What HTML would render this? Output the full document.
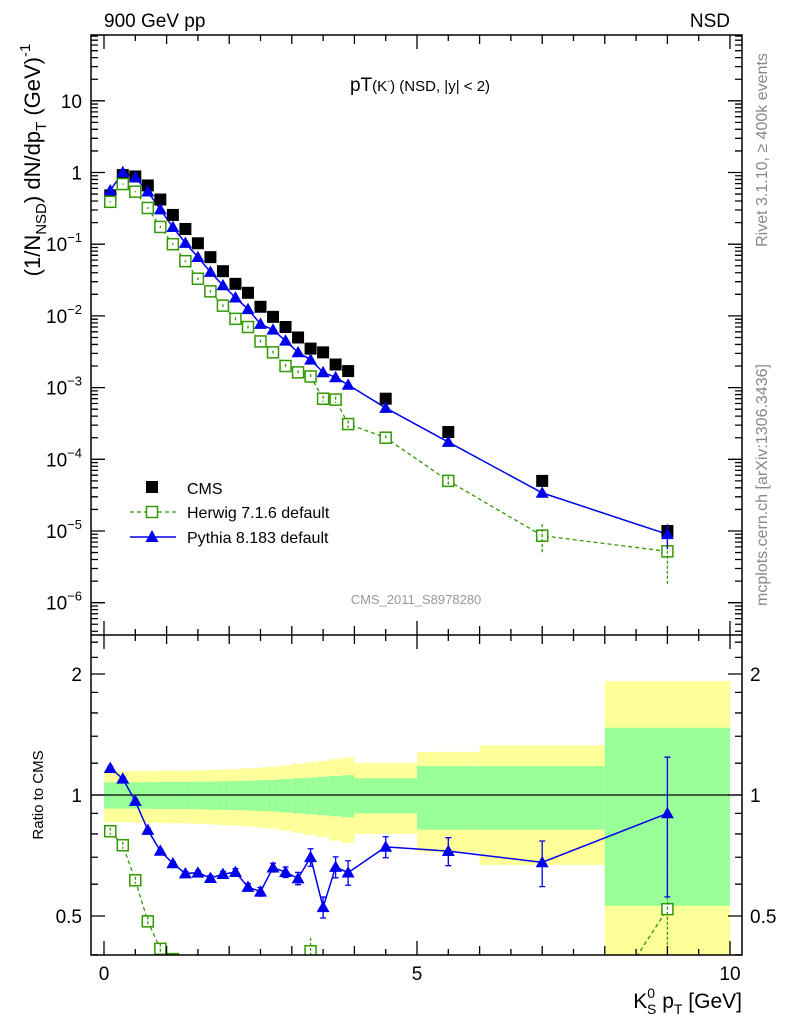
<!DOCTYPE html>
<html><head><meta charset="utf-8"><style>
html,body{margin:0;background:#fff;width:786px;height:1024px;overflow:hidden;position:relative;}
svg{display:block;font-family:"Liberation Sans",sans-serif;}
</style></head><body>
<svg id="c" width="786" height="1024" viewBox="0 0 786 1024" style="position:absolute;left:0;top:0"></svg>
<script>
const xs=[0.1,0.3,0.5,0.7,0.9,1.1,1.3,1.5,1.7,1.9,2.1,2.3,2.5,2.7,2.9,3.1,3.3,3.5,3.7,3.9,4.5,5.5,7,9];
const cms=[0.48,0.92,0.88,0.66,0.42,0.256,0.163,0.103,0.066,0.042,0.028,0.021,0.0134,0.0097,0.0070,0.0050,0.0035,0.0031,0.0021,0.0017,7.0e-4,2.4e-4,5.0e-5,1.0e-5];
const pythia=[0.56,1.01,0.85,0.54,0.305,0.173,0.104,0.066,0.041,0.0267,0.018,0.0124,0.0077,0.0064,0.0045,0.0031,0.00245,0.00163,0.00139,0.00109,5.2e-4,1.74e-4,3.4e-5,9.0e-6];
const pythiaErr=[0.01,0.01,0.01,0.01,0.01,0.01,0.01,0.01,0.015,0.015,0.02,0.02,0.025,0.025,0.03,0.035,0.05,0.06,0.06,0.07,0.06,0.08,0.13,0.38];
const herwig=[0.39,0.69,0.54,0.32,0.174,0.1,0.058,0.033,0.022,0.0139,0.0091,0.0070,0.0044,0.0031,0.0020,0.00163,0.00143,7.0e-4,6.8e-4,3.1e-4,2.0e-4,5.0e-5,8.6e-6,5.2e-6];
const herwigErr=[0.02,0.02,0.02,0.03,0.03,0.03,0.03,0.04,0.04,0.04,0.05,0.05,0.06,0.06,0.07,0.07,0.08,0.1,0.1,0.12,0.08,0.15,0.45,0.65];
const binEdges=[0,0.2,0.4,0.6,0.8,1.0,1.2,1.4,1.6,1.8,2.0,2.2,2.4,2.6,2.8,3.0,3.2,3.4,3.6,3.8,4.0,5,6,8,10];
const greenErr=[0.075,0.075,0.075,0.076,0.077,0.078,0.078,0.079,0.08,0.082,0.083,0.085,0.088,0.09,0.095,0.1,0.105,0.11,0.115,0.12,0.10,0.18,0.18,0.47];
const yellowErr=[0.145,0.145,0.146,0.147,0.148,0.15,0.15,0.152,0.155,0.158,0.16,0.165,0.17,0.175,0.185,0.195,0.205,0.215,0.23,0.24,0.20,0.28,0.33,0.92];
const decadeExps=[-6,-5,-4,-3,-2,-1,0,1];

const NS="http://www.w3.org/2000/svg";
const svg=document.getElementById('c');
function el(t,a,p){const e=document.createElementNS(NS,t);for(const k in a)e.setAttribute(k,a[k]);(p||svg).appendChild(e);return e;}
const L=91,R=742,T=35,M=635,B=955;
const X=v=>104+v*62.6;
const Y=v=>172.5-71.7*Math.log10(v);
const YR=v=>795-121*Math.log2(v);
const clipTop=el('clipPath',{id:'ct'});el('rect',{x:L,y:T,width:R-L,height:M-T},clipTop);
const clipBot=el('clipPath',{id:'cb'});el('rect',{x:L,y:M,width:R-L,height:B-M},clipBot);

const gB=el('g',{'clip-path':'url(#cb)'});

for(let i=0;i<greenErr.length;i++){
  const x0=X(binEdges[i]),x1=X(binEdges[i+1]);
  const ylo=Math.max(1-yellowErr[i],0.05);
  const r=el('rect',{x:x0,y:YR(1+yellowErr[i]),width:x1-x0,height:YR(ylo)-YR(1+yellowErr[i]),fill:'#ffff99'},gB);
  
  const g=el('rect',{x:x0,y:YR(1+greenErr[i]),width:x1-x0,height:YR(1-greenErr[i])-YR(1+greenErr[i]),fill:'#99ff99'},gB);
  
}
const one=el('line',{x1:L,x2:R,y1:YR(1),y2:YR(1),stroke:'#000','stroke-width':1.2});


function tri(g,x,y,s){return el('polygon',{points:`${x},${y-s} ${x-s},${y+s*0.75} ${x+s},${y+s*0.75}`,fill:'#0000ee'},g);}
function sq(g,x,y,s,fill){return el('rect',{x:x-s,y:y-s,width:2*s,height:2*s,fill:fill?'#000':'#fff',stroke:fill?'none':'#339900','stroke-width':1.5},g);}

const gT=el('g',{'clip-path':'url(#ct)'});
let d='';xs.forEach((x,i)=>{d+=(i?'L':'M')+X(x)+','+Y(herwig[i]);});
el('path',{d,fill:'none',stroke:'#339900','stroke-width':1.3,'stroke-dasharray':'4,3'},gT);
d='';xs.forEach((x,i)=>{d+=(i?'L':'M')+X(x)+','+Y(pythia[i]);});
el('path',{d,fill:'none',stroke:'#0000ee','stroke-width':1.5},gT);
xs.forEach((x,i)=>{
  const m=sq(gT,X(x),Y(cms[i]),6,true);
  
  const h=sq(gT,X(x),Y(herwig[i]),5.5,false);
  
  const e=el('line',{x1:X(x),x2:X(x),y1:Y(herwig[i]*(1+herwigErr[i])),y2:Y(herwig[i]*Math.max(1-herwigErr[i],0.2)),stroke:'#339900','stroke-width':1.3,'stroke-dasharray':'3,2'},gT);
  
  const pe=el('line',{x1:X(x),x2:X(x),y1:Y(pythia[i]*(1+pythiaErr[i])),y2:Y(pythia[i]*(1-pythiaErr[i])),stroke:'#0000ee','stroke-width':1.3},gT);
  
  const p=tri(gT,X(x),Y(pythia[i]),6.5);
  
});

const gR=el('g',{'clip-path':'url(#cb)'});
d='';xs.forEach((x,i)=>{d+=(i?'L':'M')+X(x)+','+YR(herwig[i]/cms[i]);});
el('path',{d,fill:'none',stroke:'#339900','stroke-width':1.3,'stroke-dasharray':'4,3'},gR);
d='';xs.forEach((x,i)=>{d+=(i?'L':'M')+X(x)+','+YR(pythia[i]/cms[i]);});
el('path',{d,fill:'none',stroke:'#0000ee','stroke-width':1.5},gR);
xs.forEach((x,i)=>{
  const hr=herwig[i]/cms[i],pr=pythia[i]/cms[i];
  const h=sq(gR,X(x),YR(hr),5.5,false);
  
  const he=el('line',{x1:X(x),x2:X(x),y1:YR(hr*(1+herwigErr[i])),y2:YR(hr*Math.max(1-herwigErr[i],0.2)),stroke:'#339900','stroke-width':1.3,'stroke-dasharray':'3,2'},gR);
  
  const y1=YR(pr*(1+pythiaErr[i])),y2=YR(pr*(1-pythiaErr[i]));
  const pe=el('path',{d:`M${X(x)},${y1}V${y2}M${X(x)-3},${y1}h6M${X(x)-3},${y2}h6`,stroke:'#0000ee','stroke-width':1.3,fill:'none'},gR);
  
  const p=tri(gR,X(x),YR(pr),6.5);
  
});

const ax=el('g',{stroke:'#000','stroke-width':1.5,fill:'none'});

el('rect',{x:L,y:T,width:R-L,height:B-T},ax);
el('line',{x1:L,x2:R,y1:M,y2:M},ax);
let td='';
for(let k=0;k<=20;k++){const v=k*0.5,x=X(v),len=(k%10==0)?14:(k%2==0?9:6);
  td+=`M${x},${M}v${-len}M${x},${T}v${len}M${x},${M}v${len}M${x},${B}v${-len}`;}
for(let e=-7;e<=1;e++){for(let m=1;m<10;m++){const v=m*Math.pow(10,e),y=Y(v);if(y<T||y>M)continue;const len=m==1?14:7;td+=`M${L},${y}h${len}M${R},${y}h${-len}`;}}
for(let k=4;k<=24;k++){const v=k/10;if(v>1&&k%2)continue;const y=YR(v);if(y<M||y>B)continue;const major=(v==0.5||v==1||v==2);const len=major?14:7;td+=`M${L},${y}h${len}M${R},${y}h${-len}`;}
el('path',{d:td,'stroke-width':1.3},ax);

function txt(s,x,y,o){const t=el('text',Object.assign({x,y},o||{}));t.textContent=s;return t;}
decadeExps.forEach(ex=>{
  const y=Y(Math.pow(10,ex))+7;
  const t=el('text',{x:82,y,'font-size':19,'text-anchor':'end'});
  
  if(ex==0){t.textContent='1';}
  else if(ex==1){t.textContent='10';}
  else{const a=el('tspan',{},t);a.textContent='10';const b=el('tspan',{'font-size':13,dy:-9},b0=t);b.textContent='\u2212'+(-ex);}
});
[[2,'2'],[1,'1'],[0.5,'0.5']].forEach(([v,s])=>{
  let t=txt(s,82,YR(v)+7,{'font-size':19,'text-anchor':'end'});
  t=txt(s,750,YR(v)+7,{'font-size':19});});
[[0,'0'],[5,'5'],[10,'10']].forEach(([v,s])=>{const t=txt(s,X(v),980,{'font-size':19,'text-anchor':'middle'});});
</script>
<svg width="786" height="1024" style="position:absolute;left:0;top:0" font-family="Liberation Sans, sans-serif">
<text x="104" y="27" font-size="19">900 GeV pp</text>
<text x="730" y="27" font-size="19" text-anchor="end">NSD</text>
<text x="420" y="91" font-size="19" text-anchor="middle">pT<tspan font-size="15">(K</tspan><tspan font-size="9" dy="-7">-</tspan><tspan font-size="15" dy="7">) (NSD, |y| &lt; 2)</tspan></text>
<text transform="translate(40,160) rotate(-90)" font-size="22" text-anchor="middle">(1/N<tspan font-size="15" dy="6">NSD</tspan><tspan dy="-6">) dN/dp</tspan><tspan font-size="15" dy="6">T</tspan><tspan dy="-6">  (GeV)</tspan><tspan font-size="15" dy="-10">-1</tspan></text>
<text transform="translate(43,795) rotate(-90)" font-size="15" text-anchor="middle">Ratio to CMS</text>
<text x="742" y="1008" font-size="21" text-anchor="end">K<tspan font-size="14" dy="-10">0</tspan><tspan font-size="14" dy="16" dx="-8">S</tspan><tspan dy="-6"> p</tspan><tspan font-size="14" dy="6">T</tspan><tspan dy="-6"> [GeV]</tspan></text>
<text transform="translate(767,150) rotate(-90)" font-size="16" fill="#888" text-anchor="middle">Rivet 3.1.10, ≥ 400k events</text>
<text transform="translate(767,485) rotate(-90)" font-size="16" fill="#888" text-anchor="middle">mcplots.cern.ch [arXiv:1306.3436]</text>
<text x="416" y="604" font-size="13" fill="#999" text-anchor="middle">CMS_2011_S8978280</text>
<g>
<rect x="146" y="481" width="12" height="12" fill="#000"/>
<text x="187" y="494" font-size="16">CMS</text>
<line x1="130" y1="512" x2="176" y2="512" stroke="#339900" stroke-width="1.3" stroke-dasharray="4,3"/>
<rect x="146.5" y="506.5" width="11" height="11" fill="#fff" stroke="#339900" stroke-width="1.5"/>
<text x="187" y="518" font-size="16">Herwig 7.1.6 default</text>
<line x1="130" y1="537" x2="176" y2="537" stroke="#0000ee" stroke-width="1.5"/>
<polygon points="152,530 145.5,542 158.5,542" fill="#0000ee"/>
<text x="187" y="543" font-size="16">Pythia 8.183 default</text>
</g>
</svg>
</body></html>
